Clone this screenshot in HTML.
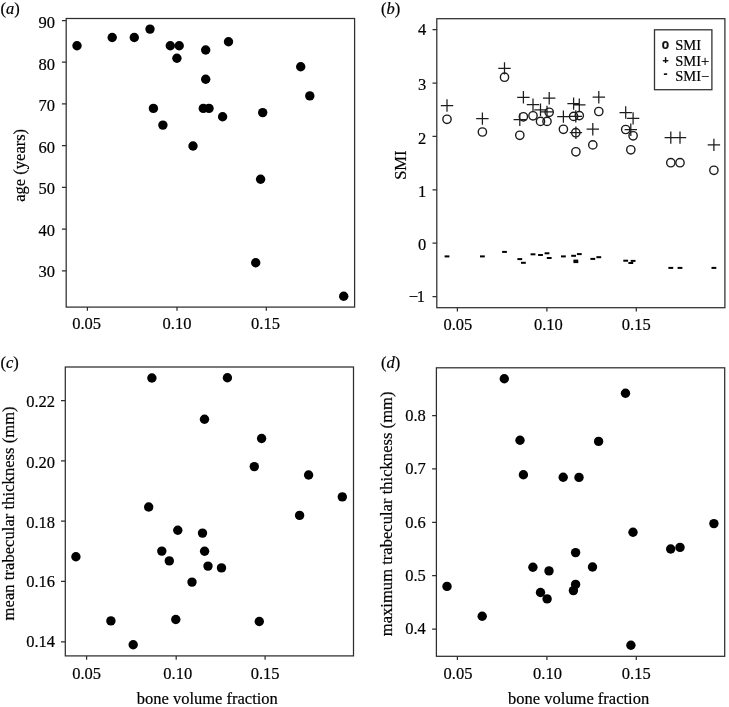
<!DOCTYPE html>
<html lang="en"><head><meta charset="utf-8"><title>Figure</title>
<style>html,body{margin:0;padding:0;background:#fff}body{width:729px;height:707px;overflow:hidden}svg{display:block}text{font-family:"Liberation Serif","DejaVu Serif",serif;font-size:16.5px;fill:#000;stroke:#000;stroke-width:0.2px}.fr{fill:none;stroke:#2e2e2e;stroke-width:1.25}.tk{stroke:#2e2e2e;stroke-width:1.25;fill:none}.pl{stroke:#1c1c1c;stroke-width:1.25;fill:none}.ci{stroke:#1c1c1c;stroke-width:1.4;fill:none}.lab{font-style:italic}.lg{font-size:14.5px}.mk{font-family:"Liberation Sans","DejaVu Sans",sans-serif;font-weight:bold;fill:#111}</style></head><body>
<svg width="729" height="707" viewBox="0 0 729 707">
<rect width="729" height="707" fill="#fff"/>
<g id="plot-a">
<rect class="fr" x="66.20" y="18.50" width="288.40" height="288.60"/>
<path class="tk" d="M87.40 307.10V310.80M177.00 307.10V310.80M266.30 307.10V310.80M66.20 20.50h-4.30M66.20 62.22h-4.30M66.20 103.94h-4.30M66.20 145.66h-4.30M66.20 187.38h-4.30M66.20 229.10h-4.30M66.20 270.82h-4.30"/>
<text x="86.60" y="328.90" text-anchor="middle">0.05</text>
<text x="177.00" y="328.90" text-anchor="middle">0.10</text>
<text x="265.50" y="328.90" text-anchor="middle">0.15</text>
<text x="55.00" y="27.60" text-anchor="end">90</text>
<text x="55.00" y="69.82" text-anchor="end">80</text>
<text x="55.00" y="111.04" text-anchor="end">70</text>
<text x="55.00" y="152.76" text-anchor="end">60</text>
<text x="55.00" y="194.48" text-anchor="end">50</text>
<text x="55.00" y="236.20" text-anchor="end">40</text>
<text x="55.00" y="276.92" text-anchor="end">30</text>
</g>
<g id="plot-b">
<rect class="fr" x="436.80" y="18.70" width="288.10" height="289.00"/>
<path class="tk" d="M457.40 307.70V311.50M546.90 307.70V311.50M636.30 307.70V311.50M436.80 29.70h-4.30M436.80 83.08h-4.30M436.80 136.46h-4.30M436.80 189.84h-4.30M436.80 243.22h-4.30M436.80 296.60h-4.30"/>
<text x="457.90" y="329.50" text-anchor="middle">0.05</text>
<text x="548.40" y="329.50" text-anchor="middle">0.10</text>
<text x="636.30" y="329.50" text-anchor="middle">0.15</text>
<text x="426.20" y="34.60" text-anchor="end">4</text>
<text x="426.20" y="90.18" text-anchor="end">3</text>
<text x="426.20" y="143.56" text-anchor="end">2</text>
<text x="426.20" y="196.94" text-anchor="end">1</text>
<text x="426.20" y="250.32" text-anchor="end">0</text>
<text x="425.00" y="301.60" text-anchor="end">−<tspan dx="-1.2">1</tspan></text>
</g>
<g id="plot-c">
<rect class="fr" x="65.30" y="367.00" width="288.20" height="288.90"/>
<path class="tk" d="M86.60 655.90V659.70M176.20 655.90V659.70M265.10 655.90V659.70M65.30 400.50h-4.30M65.30 460.82h-4.30M65.30 521.14h-4.30M65.30 581.46h-4.30M65.30 641.78h-4.30"/>
<text x="86.60" y="678.80" text-anchor="middle">0.05</text>
<text x="177.70" y="678.80" text-anchor="middle">0.10</text>
<text x="265.10" y="678.80" text-anchor="middle">0.15</text>
<text x="55.00" y="406.60" text-anchor="end">0.22</text>
<text x="55.00" y="467.92" text-anchor="end">0.20</text>
<text x="55.00" y="528.24" text-anchor="end">0.18</text>
<text x="55.00" y="587.36" text-anchor="end">0.16</text>
<text x="55.00" y="646.88" text-anchor="end">0.14</text>
</g>
<g id="plot-d">
<rect class="fr" x="436.40" y="367.80" width="288.30" height="288.50"/>
<path class="tk" d="M457.40 656.30V660.10M546.90 656.30V660.10M636.30 656.30V660.10M436.40 415.50h-4.30M436.40 468.90h-4.30M436.40 522.30h-4.30M436.40 575.70h-4.30M436.40 629.10h-4.30"/>
<text x="458.00" y="678.80" text-anchor="middle">0.05</text>
<text x="547.50" y="678.80" text-anchor="middle">0.10</text>
<text x="636.30" y="678.80" text-anchor="middle">0.15</text>
<text x="425.80" y="421.40" text-anchor="end">0.8</text>
<text x="425.80" y="473.80" text-anchor="end">0.7</text>
<text x="425.80" y="528.10" text-anchor="end">0.6</text>
<text x="425.80" y="580.60" text-anchor="end">0.5</text>
<text x="425.80" y="634.00" text-anchor="end">0.4</text>
</g>
<text class="lab" x="0.5" y="13.6"><tspan style="font-style:normal">(</tspan>a<tspan style="font-style:normal">)</tspan></text>
<text class="lab" x="381" y="14.2"><tspan style="font-style:normal">(</tspan>b<tspan style="font-style:normal">)</tspan></text>
<text class="lab" x="0.5" y="368.2"><tspan style="font-style:normal">(</tspan>c<tspan style="font-style:normal">)</tspan></text>
<text class="lab" x="381" y="368.4"><tspan style="font-style:normal">(</tspan>d<tspan style="font-style:normal">)</tspan></text>
<text transform="translate(24.8 165.3) rotate(-90)" text-anchor="middle">age (years)</text>
<text transform="translate(406.4 165.2) rotate(-90)" text-anchor="middle">SMI</text>
<text transform="translate(14.0 513.4) rotate(-90)" text-anchor="middle" textLength="214">mean trabecular thickness (mm)</text>
<text transform="translate(392.4 513.9) rotate(-90)" text-anchor="middle" textLength="244.6">maximum trabecular thickness (mm)</text>
<text x="207.3" y="703.8" text-anchor="middle">bone volume fraction</text>
<text x="578.6" y="703.8" text-anchor="middle">bone volume fraction</text>
<g fill="#000">
<circle cx="77.0" cy="45.8" r="4.7"/>
<circle cx="112.2" cy="37.5" r="4.7"/>
<circle cx="134.3" cy="37.5" r="4.7"/>
<circle cx="150.0" cy="29.1" r="4.7"/>
<circle cx="153.4" cy="108.4" r="4.7"/>
<circle cx="162.9" cy="125.1" r="4.7"/>
<circle cx="170.3" cy="45.8" r="4.7"/>
<circle cx="176.9" cy="58.3" r="4.7"/>
<circle cx="179.2" cy="45.8" r="4.7"/>
<circle cx="193.0" cy="146.0" r="4.7"/>
<circle cx="203.3" cy="108.4" r="4.7"/>
<circle cx="205.7" cy="50.0" r="4.7"/>
<circle cx="205.7" cy="79.2" r="4.7"/>
<circle cx="209.0" cy="108.4" r="4.7"/>
<circle cx="222.6" cy="116.8" r="4.7"/>
<circle cx="228.5" cy="41.7" r="4.7"/>
<circle cx="255.7" cy="262.8" r="4.7"/>
<circle cx="260.6" cy="179.3" r="4.7"/>
<circle cx="262.7" cy="112.6" r="4.7"/>
<circle cx="300.7" cy="66.7" r="4.7"/>
<circle cx="309.8" cy="95.9" r="4.7"/>
<circle cx="343.7" cy="296.2" r="4.7"/>
<circle cx="75.9" cy="556.7" r="4.7"/>
<circle cx="110.9" cy="620.9" r="4.7"/>
<circle cx="133.2" cy="644.7" r="4.7"/>
<circle cx="148.7" cy="507.0" r="4.7"/>
<circle cx="151.9" cy="378.0" r="4.7"/>
<circle cx="161.8" cy="551.1" r="4.7"/>
<circle cx="169.3" cy="560.9" r="4.7"/>
<circle cx="175.8" cy="619.5" r="4.7"/>
<circle cx="177.8" cy="530.3" r="4.7"/>
<circle cx="192.0" cy="582.1" r="4.7"/>
<circle cx="202.5" cy="533.1" r="4.7"/>
<circle cx="204.5" cy="419.3" r="4.7"/>
<circle cx="204.6" cy="551.2" r="4.7"/>
<circle cx="208.0" cy="566.1" r="4.7"/>
<circle cx="221.5" cy="567.9" r="4.7"/>
<circle cx="227.4" cy="377.7" r="4.7"/>
<circle cx="254.3" cy="466.6" r="4.7"/>
<circle cx="259.3" cy="621.5" r="4.7"/>
<circle cx="261.6" cy="438.5" r="4.7"/>
<circle cx="299.6" cy="515.4" r="4.7"/>
<circle cx="308.6" cy="475.0" r="4.7"/>
<circle cx="342.3" cy="496.9" r="4.7"/>
<circle cx="447.0" cy="586.4" r="4.7"/>
<circle cx="482.2" cy="616.3" r="4.7"/>
<circle cx="504.3" cy="378.7" r="4.7"/>
<circle cx="520.0" cy="440.2" r="4.7"/>
<circle cx="523.4" cy="474.8" r="4.7"/>
<circle cx="532.9" cy="567.3" r="4.7"/>
<circle cx="540.5" cy="592.5" r="4.7"/>
<circle cx="547.1" cy="598.9" r="4.7"/>
<circle cx="549.0" cy="570.9" r="4.7"/>
<circle cx="563.2" cy="477.3" r="4.7"/>
<circle cx="573.4" cy="590.6" r="4.7"/>
<circle cx="575.6" cy="552.6" r="4.7"/>
<circle cx="575.6" cy="584.4" r="4.7"/>
<circle cx="579.0" cy="477.4" r="4.7"/>
<circle cx="592.5" cy="567.0" r="4.7"/>
<circle cx="598.6" cy="441.4" r="4.7"/>
<circle cx="625.5" cy="393.3" r="4.7"/>
<circle cx="630.9" cy="645.3" r="4.7"/>
<circle cx="633.0" cy="532.2" r="4.7"/>
<circle cx="670.7" cy="549.0" r="4.7"/>
<circle cx="680.0" cy="547.4" r="4.7"/>
<circle cx="713.9" cy="523.6" r="4.7"/>
</g>
<path class="pl" d="M440.8 105.5h12.4M447.0 99.3v12.4M476.2 118.6h12.4M482.4 112.4v12.4M498.3 68.4h12.4M504.5 62.2v12.4M513.6 119.7h12.4M519.8 113.5v12.4M517.2 97.3h12.4M523.4 91.1v12.4M526.8 104.7h12.4M533.0 98.5v12.4M534.3 109.8h12.4M540.5 103.6v12.4M540.8 111.9h12.4M547.0 105.7v12.4M543.0 98.2h12.4M549.2 92.0v12.4M557.2 116.6h12.4M563.4 110.4v12.4M567.4 103.6h12.4M573.6 97.4v12.4M569.6 116.4h12.4M575.8 110.2v12.4M569.7 132.7h12.4M575.9 126.5v12.4M573.1 104.8h12.4M579.3 98.6v12.4M586.6 129.2h12.4M592.8 123.0v12.4M592.6 97.2h12.4M598.8 91.0v12.4M619.5 112.5h12.4M625.7 106.3v12.4M624.6 129.7h12.4M630.8 123.5v12.4M626.9 118.4h12.4M633.1 112.2v12.4M664.6 137.6h12.4M670.8 131.4v12.4M673.8 137.6h12.4M680.0 131.4v12.4M707.7 144.9h12.4M713.9 138.7v12.4"/>
<g class="ci">
<circle cx="447.0" cy="119.3" r="4.15"/>
<circle cx="482.4" cy="132.0" r="4.15"/>
<circle cx="504.5" cy="77.2" r="4.15"/>
<circle cx="519.8" cy="135.3" r="4.15"/>
<circle cx="523.4" cy="116.8" r="4.15"/>
<circle cx="533.0" cy="115.8" r="4.15"/>
<circle cx="540.5" cy="121.4" r="4.15"/>
<circle cx="547.0" cy="121.4" r="4.15"/>
<circle cx="549.2" cy="112.3" r="4.15"/>
<circle cx="563.4" cy="129.3" r="4.15"/>
<circle cx="573.6" cy="116.4" r="4.15"/>
<circle cx="575.8" cy="132.7" r="4.15"/>
<circle cx="575.9" cy="151.8" r="4.15"/>
<circle cx="579.3" cy="115.6" r="4.15"/>
<circle cx="592.8" cy="144.9" r="4.15"/>
<circle cx="598.8" cy="111.5" r="4.15"/>
<circle cx="625.7" cy="129.5" r="4.15"/>
<circle cx="630.8" cy="149.8" r="4.15"/>
<circle cx="633.1" cy="135.8" r="4.15"/>
<circle cx="670.8" cy="162.7" r="4.15"/>
<circle cx="680.0" cy="162.7" r="4.15"/>
<circle cx="713.9" cy="170.3" r="4.15"/>
</g>
<g fill="#000">
<rect x="444.6" y="255.4" width="4.8" height="2"/>
<rect x="480.0" y="255.4" width="4.8" height="2"/>
<rect x="502.1" y="250.9" width="4.8" height="2"/>
<rect x="517.4" y="258.1" width="4.8" height="2"/>
<rect x="521.0" y="261.8" width="4.8" height="2"/>
<rect x="530.6" y="253.3" width="4.8" height="2"/>
<rect x="538.1" y="254.0" width="4.8" height="2"/>
<rect x="544.6" y="252.3" width="4.8" height="2"/>
<rect x="546.8" y="257.0" width="4.8" height="2"/>
<rect x="561.0" y="255.4" width="4.8" height="2"/>
<rect x="571.2" y="254.8" width="4.8" height="2"/>
<rect x="573.4" y="259.6" width="4.8" height="2"/>
<rect x="573.5" y="261.1" width="4.8" height="2"/>
<rect x="576.9" y="253.1" width="4.8" height="2"/>
<rect x="590.4" y="257.9" width="4.8" height="2"/>
<rect x="596.4" y="256.2" width="4.8" height="2"/>
<rect x="623.3" y="259.7" width="4.8" height="2"/>
<rect x="628.4" y="262.0" width="4.8" height="2"/>
<rect x="630.7" y="259.9" width="4.8" height="2"/>
<rect x="668.4" y="266.9" width="4.8" height="2"/>
<rect x="677.6" y="266.9" width="4.8" height="2"/>
<rect x="711.5" y="266.9" width="4.8" height="2"/>
</g>
<rect x="654.5" y="29.8" width="57.4" height="59.9" fill="#fff" stroke="#333" stroke-width="1.3"/>
<text class="mk" transform="translate(665.4 49.2) scale(0.92 1.1)" text-anchor="middle" style="font-size:13px">o</text>
<text class="mk" x="665.5" y="64.2" text-anchor="middle" style="font-size:10.5px">+</text>
<text class="mk" x="665.5" y="78.0" text-anchor="middle" style="font-size:12px">-</text>
<text class="lg" x="675.2" y="49.9">SMI</text>
<text class="lg" x="675.2" y="65.8">SMI+</text>
<text class="lg" x="675.2" y="81.1">SMI−</text>
</svg></body></html>
